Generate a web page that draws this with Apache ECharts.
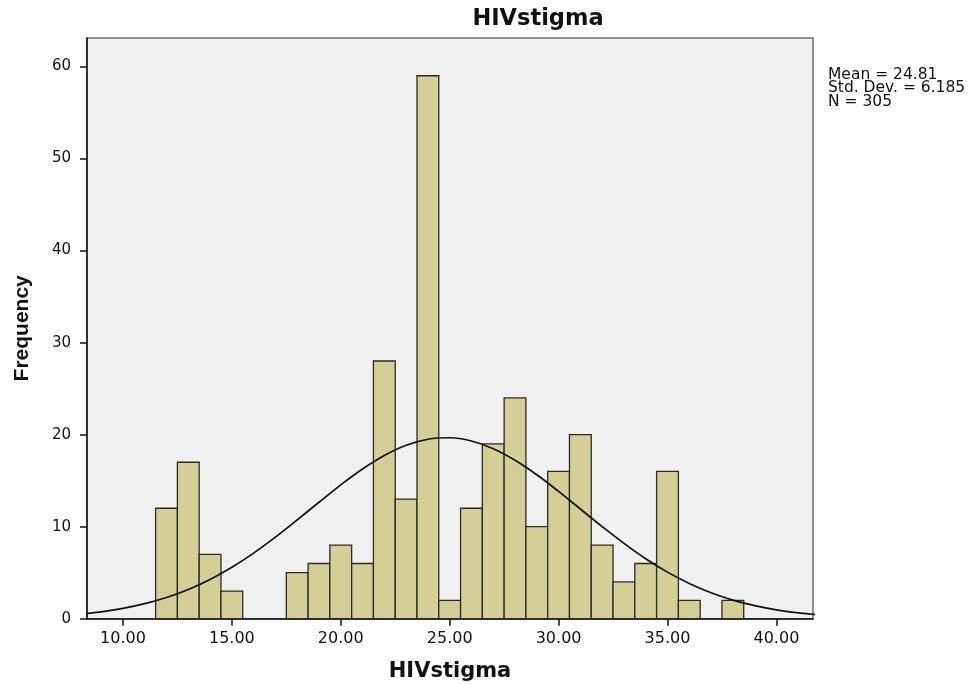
<!DOCTYPE html>
<html>
<head>
<meta charset="utf-8">
<script src="https://cdn.jsdelivr.net/npm/echarts@6/dist/echarts.min.js"></script>
<style>
html,body{margin:0;padding:0;background:#fff;}
#chart{width:974px;height:684px;}
</style>
</head>
<body>
<div id="chart"></div>
<script>
// ---- data ----
const binCenters = [12,13,14,15,16,17,18,19,20,21,22,23,24,25,26,27,28,29,30,31,32,33,34,35,36,37,38];
const frequencies = [12,17,7,3,0,0,5,6,8,6,28,13,59,2,12,19,24,10,16,20,8,4,6,16,2,0,2];
const binWidth = 1;
// normal curve heights
const curveX = [8,9,10,11,12,13,14,15,16,17,18,19,20,21,22,23,24,25,26,27,28,29,30,31,32,33,34,35,36,37,38,39,40,41,42];
const curveY = [0.49,0.75,1.12,1.63,2.30,3.18,4.27,5.59,7.13,8.86,10.73,12.65,14.54,16.27,17.74,18.85,19.50,19.66,19.31,18.47,17.22,15.64,13.83,11.92,10.01,8.19,6.52,5.06,3.83,2.82,2.02,1.42,0.96,0.64,0.41];
const xTicks = [10,15,20,25,30,35,40];
const yTicks = [0,10,20,30,40,50,60];
const statMean = '24.81';
const statSD = '6.185';
const statN = '305';
const chartTitle = 'HIVstigma';
const xName = 'HIVstigma';
const yName = 'Frequency';

const chart = echarts.init(document.getElementById('chart'), null, {renderer:'canvas'});
const textColor = '#111';

chart.setOption({
  animation: false,
  backgroundColor: '#ffffff',
  grid: {
    left: 87, right: 161, top: 38, bottom: 65.3,
    outerBoundsMode: 'none', containLabel: false,
    show: true, backgroundColor: '#f0f0f0', borderColor: '#6e6e6e', borderWidth: 1.5
  },
  xAxis: {
    type: 'value', min: 8.35, max: 41.68,
    name: xName, nameLocation: 'middle', nameGap: 42,
    nameTextStyle: {fontFamily: 'DejaVu Sans', fontWeight: 'bold', fontSize: 21, color: textColor},
    axisLine: {show: true, lineStyle: {color: '#111', width: 1.5}},
    axisTick: {show: true, customValues: xTicks, length: 7, lineStyle: {color: '#111', width: 1.5}},
    axisLabel: {customValues: xTicks, formatter: v => Number(v).toFixed(2), fontFamily: 'DejaVu Sans', fontSize: 16, color: textColor, margin: 12},
    splitLine: {show: false}
  },
  yAxis: {
    type: 'value', min: 0, max: 63.1,
    name: yName, nameLocation: 'middle', nameGap: 54, nameRotate: 90,
    nameTextStyle: {fontFamily: 'Liberation Sans', fontWeight: 'bold', fontSize: 21, color: textColor},
    axisLine: {show: true, lineStyle: {color: '#111', width: 1.5}},
    axisTick: {show: true, customValues: yTicks, length: 7, lineStyle: {color: '#111', width: 1.5}},
    axisLabel: {customValues: yTicks, fontFamily: 'DejaVu Sans', fontSize: 15, color: textColor, margin: 16},
    splitLine: {show: false}
  },
  graphic: [
    {type: 'text', x: 538, y: 8, style: {text: chartTitle, font: 'bold 22.5px "DejaVu Sans"', fill: textColor, textAlign: 'center', textVerticalAlign: 'top'}},
    {type: 'text', x: 828, y: 68, style: {text: 'Mean = ' + statMean + '\nStd. Dev. = ' + statSD + '\nN = ' + statN, font: '15.5px "DejaVu Sans"', lineHeight: 13.5, fill: textColor, textVerticalAlign: 'top'}}
  ],
  series: [
    {
      type: 'custom',
      data: binCenters.map((c, i) => [c, frequencies[i]]),
      encode: {x: 0, y: 1},
      renderItem: function (params, api) {
        const c = api.value(0), f = api.value(1);
        if (!f) return null;
        const p0 = api.coord([c - binWidth / 2, f]);
        const p1 = api.coord([c + binWidth / 2, 0]);
        return {
          type: 'rect',
          shape: {x: p0[0], y: p0[1], width: p1[0] - p0[0], height: p1[1] - p0[1]},
          style: {fill: '#d3cf97', stroke: '#2a2a2a', lineWidth: 1.3}
        };
      },
      z: 2
    },
    {
      type: 'line',
      data: curveX.map((x, i) => [x, curveY[i]]),
      smooth: 0.4,
      showSymbol: false,
      clip: true,
      lineStyle: {color: '#111', width: 1.7},
      z: 3
    }
  ]
});
</script>
</body>
</html>
